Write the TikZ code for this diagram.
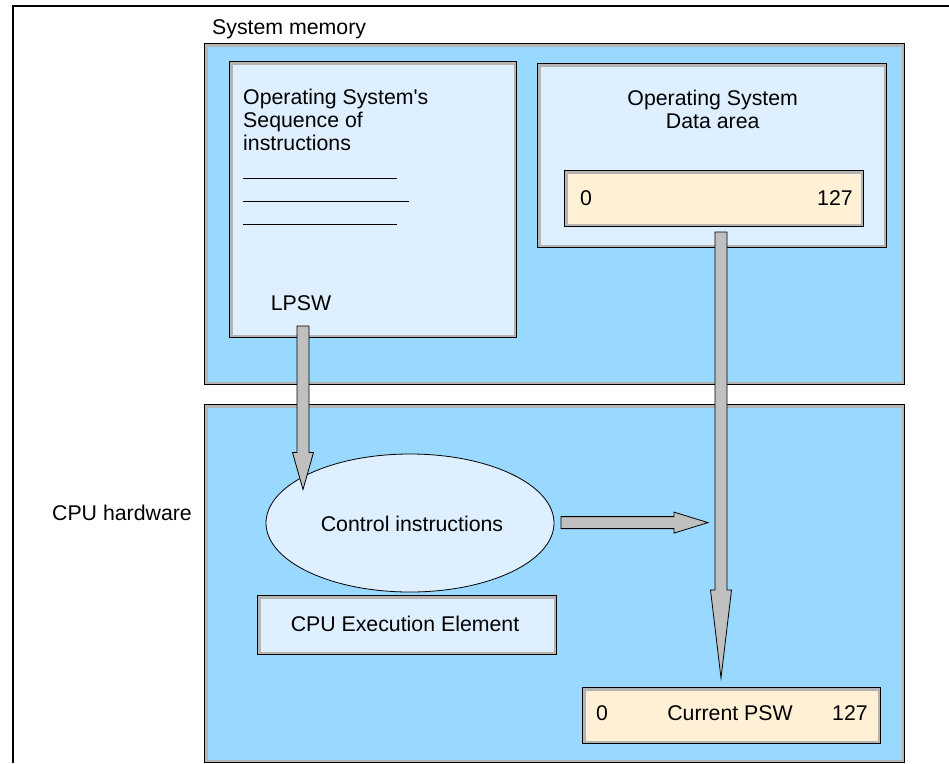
\documentclass[tikz,border=0pt]{standalone}
\usepackage{fontspec}
\setmainfont{Liberation Sans}
\usetikzlibrary{calc,shapes.geometric}
\definecolor{memblue}{RGB}{153,217,255}
\definecolor{paleblue}{RGB}{222,240,255}
\definecolor{cream}{RGB}{255,240,214}
\definecolor{bevelgray}{RGB}{180,180,180}
\definecolor{arrowgray}{RGB}{192,192,192}
\tikzset{
    bevel/.style = {draw = black, line width = 1.3pt, anchor = north west, inner sep = 0pt,
        path picture = {\draw[bevelgray, line width = 6pt] (path picture bounding box.south west)
            rectangle (path picture bounding box.north east);}},
    fatarrow/.style = {draw = black, line width = 0.8pt, fill = arrowgray, line join = miter},
    label/.style = {inner sep = 0pt, anchor = base}
}
\newcommand{\fatdown}[3]{%
    \draw[fatarrow] ($(#1) + (-6, 0)$) -- ($(#2) + (-6, -#3)$) -- ($(#2) + (-10.5, -#3)$)
        -- (#2) -- ($(#2) + (10.5, -#3)$) -- ($(#2) + (6, -#3)$) -- ($(#1) + (6, 0)$) -- cycle;}
\newcommand{\fatright}[3]{%
    \draw[fatarrow] ($(#1) + (0, -6)$) -- ($(#2) + (-#3, -6)$) -- ($(#2) + (-#3, -10.5)$)
        -- (#2) -- ($(#2) + (-#3, 10.5)$) -- ($(#2) + (-#3, 6)$) -- ($(#1) + (0, 6)$) -- cycle;}
\begin{document}
\begin{tikzpicture}[x = 1pt, y = -1pt, font = \fontsize{21.3}{23}\selectfont]
\useasboundingbox (0, 0) rectangle (949, 763);
\draw[line width = 2pt] (949, 6) -- (13, 6) -- (13, 763);
\node[bevel, fill = memblue, minimum width = 700pt, minimum height = 341pt] (sysmem) at (204, 43) {};
\node[bevel, fill = memblue, minimum width = 700pt, minimum height = 358pt] (cpu) at (204, 404) {};
\node[label, anchor = base west] (sysmemlabel) at (212, 34) {System memory};
\node[label] (cpulabel) at (122, 520.7) {CPU hardware};
\node[bevel, fill = paleblue, minimum width = 287pt, minimum height = 276pt] (osinstr) at (229, 61) {};
\node[label, anchor = north west, align = left] (osinstrtext) at (243, 89)
    {Operating System\textquotesingle s\\Sequence of\\instructions};
\foreach \y/\l in {178/397, 201/409, 224/397}
    \draw[line width = 1pt] (243, \y) -- (\l, \y);
\node[label] (lpsw) at (301, 310.6) {LPSW};
\node[bevel, fill = paleblue, minimum width = 349pt, minimum height = 184pt] (osdata) at (537, 63) {};
\node[label, anchor = north, align = center] (osdatatext) at (712.7, 89.5)
    {Operating System\\Data area};
\node[bevel, fill = cream, minimum width = 299pt, minimum height = 56pt] (databar) at (564, 170) {};
\node[label] (datalow) at (586, 205.7) {0};
\node[label] (datahigh) at (835, 205.7) {127};
\node[ellipse, draw = black, line width = 0.8pt, fill = paleblue, inner sep = 0pt,
    minimum width = 288pt, minimum height = 138pt] (ctrl) at (410, 523) {};
\node[label] (ctrltext) at (412, 531.6) {Control instructions};
\node[bevel, fill = paleblue, minimum width = 299pt, minimum height = 59pt] (exec) at (257, 595) {};
\node[label] (exectext) at (405, 631) {CPU Execution Element};
\node[bevel, fill = cream, minimum width = 298pt, minimum height = 56pt] (psw) at (582, 687) {};
\node[label] (pswlow) at (602, 720.7) {0};
\node[label] (pswtext) at (730, 720.7) {Current PSW};
\node[label] (pswhigh) at (850, 720.7) {127};
\coordinate (lpswtop) at (303, 326);
\coordinate (lpswtip) at (303, 489.5);
\coordinate (datatop) at (721, 232);
\coordinate (datatip) at (721, 678);
\coordinate (ctrlout) at (561, 522.6);
\coordinate (ctrltip) at (708, 522.6);
\fatdown{lpswtop}{lpswtip}{37}
\fatdown{datatop}{datatip}{88}
\fatright{ctrlout}{ctrltip}{34}
\end{tikzpicture}
\end{document}
